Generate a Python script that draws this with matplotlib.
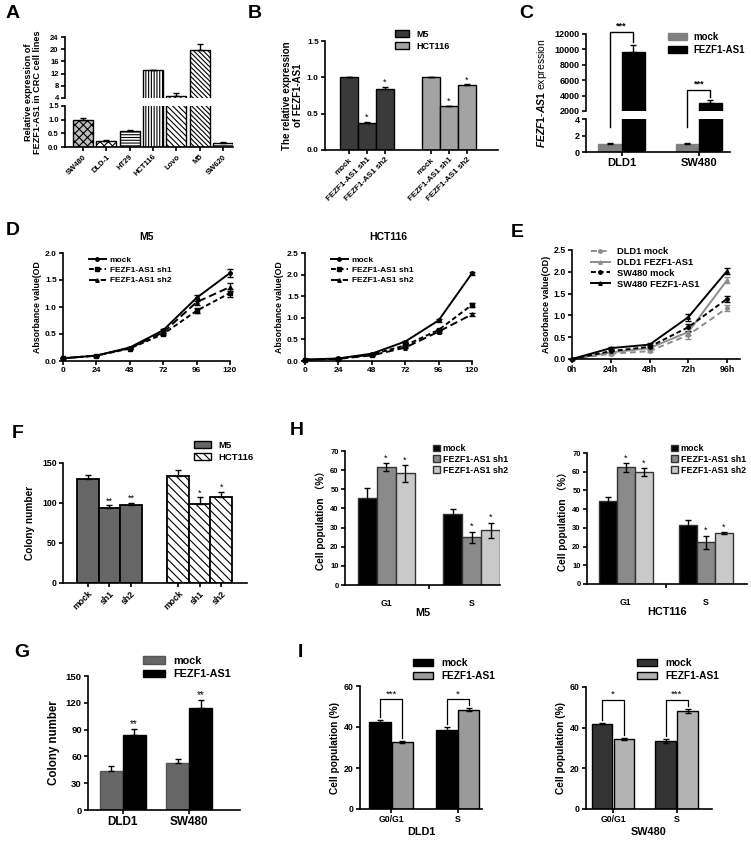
import matplotlib
matplotlib.use("Agg")
import matplotlib.pyplot as plt
import numpy as np
from matplotlib.lines import Line2D
from matplotlib.patches import Patch

plt.rcParams["font.family"] = ["Liberation Sans", "DejaVu Sans"]
plt.rcParams["font.weight"] = "bold"
plt.rcParams["axes.labelweight"] = "bold"
plt.rcParams["hatch.linewidth"] = 0.8
plt.rcParams["mathtext.fontset"] = "custom"
plt.rcParams["mathtext.it"] = "Liberation Sans:italic"
plt.rcParams["mathtext.rm"] = "Liberation Sans"

W, H = 751, 852

# ---- data ----
A_LINES = ["SW480", "DLD-1", "HT29", "HCT116", "Lovo", "M5", "SW620"]
A_VALUES = [1.0, 0.22, 0.58, 13.2, 4.6, 19.8, 0.15]
A_ERR = [0.05, 0.02, 0.03, 0.1, 0.9, 2.0, 0.02]

B_CONDS = ["mock", "FEZF1-AS1 sh1", "FEZF1-AS1 sh2"]
B_M5 = [1.0, 0.37, 0.84]
B_M5_ERR = [0.01, 0.02, 0.03]
B_HCT = [1.0, 0.60, 0.89]
B_HCT_ERR = [0.01, 0.005, 0.015]

C_LINES = ["DLD1", "SW480"]
C_MOCK = [1.0, 1.0]
C_MOCK_ERR = [0.08, 0.12]
C_FEZF = [9700, 3040]
C_FEZF_ERR = [870, 390]

D_HOURS = [0, 24, 48, 72, 96, 120]
D_M5_MOCK = [0.05, 0.10, 0.25, 0.57, 1.17, 1.63]
D_M5_SH1 = [0.05, 0.10, 0.23, 0.50, 0.93, 1.26]
D_M5_SH2 = [0.05, 0.10, 0.24, 0.53, 1.09, 1.37]
D_M5_ERR = [0.0, 0.0, 0.01, 0.02, 0.05, 0.07]
D_HCT_MOCK = [0.03, 0.06, 0.17, 0.45, 0.94, 2.03]
D_HCT_SH1 = [0.03, 0.05, 0.15, 0.36, 0.72, 1.30]
D_HCT_SH2 = [0.03, 0.05, 0.13, 0.31, 0.68, 1.08]
D_HCT_ERR = [0.0, 0.0, 0.01, 0.02, 0.03, 0.04]

E_HOURS = [0, 24, 48, 72, 96]
E_LABELS = ["0h", "24h", "48h", "72h", "96h"]
E_DLD1_MOCK = [0.0, 0.12, 0.18, 0.55, 1.17]
E_DLD1_FEZF = [0.0, 0.15, 0.25, 0.62, 1.81]
E_SW480_MOCK = [0.0, 0.18, 0.28, 0.73, 1.38]
E_SW480_FEZF = [0.0, 0.25, 0.33, 0.96, 2.02]
E_ERR = [0.0, 0.02, 0.03, 0.08, 0.07]

F_CONDS = ["mock", "sh1", "sh2"]
F_M5 = [130, 94, 97]
F_M5_ERR = [5, 3, 3]
F_HCT = [134, 99, 108]
F_HCT_ERR = [7, 8, 6]

G_LINES = ["DLD1", "SW480"]
G_MOCK = [44, 53]
G_MOCK_ERR = [5, 4]
G_FEZF = [84, 114]
G_FEZF_ERR = [7, 9]

H_PHASES = ["G1", "S"]
H_M5_MOCK = [45.5, 37.0]
H_M5_SH1 = [61.8, 25.0]
H_M5_SH2 = [58.3, 28.5]
H_M5_MOCK_ERR = [5.3, 2.5]
H_M5_SH1_ERR = [2.0, 2.8]
H_M5_SH2_ERR = [4.3, 4.0]
H_HCT_MOCK = [44.5, 31.3]
H_HCT_SH1 = [62.3, 22.3]
H_HCT_SH2 = [59.8, 27.2]
H_HCT_MOCK_ERR = [2.0, 3.0]
H_HCT_SH1_ERR = [2.2, 3.5]
H_HCT_SH2_ERR = [2.0, 0.6]

I_PHASES = ["G0/G1", "S"]
I_DLD1_MOCK = [42.5, 38.5]
I_DLD1_FEZF = [32.5, 48.5]
I_DLD1_MOCK_ERR = [0.7, 1.5]
I_DLD1_FEZF_ERR = [0.5, 0.8]
I_SW480_MOCK = [42.0, 33.5]
I_SW480_FEZF = [34.5, 48.0]
I_SW480_MOCK_ERR = [0.3, 1.0]
I_SW480_FEZF_ERR = [0.6, 1.0]


fig = plt.figure(figsize=(W / 100, H / 100), dpi=100)


def add_ax(l, t, r, b):
    return fig.add_axes([l / W, 1 - b / H, (r - l) / W, (b - t) / H])


def style(ax, size=5.5, lw=1.2):
    ax.spines["top"].set_visible(False)
    ax.spines["right"].set_visible(False)
    for s in ("left", "bottom"):
        ax.spines[s].set_linewidth(lw)
    ax.tick_params(width=lw, length=3, labelsize=size, pad=1.5)


def letter(x, y, s):
    fig.text(x / W, 1 - y / H, s, fontsize=14, fontweight="bold", va="top")


def fig_legend(handles, labels, x, y, size, **kw):
    leg = fig.legend(handles, labels, loc="upper left", bbox_to_anchor=(x / W, 1 - y / H),
                     frameon=False, fontsize=size, borderaxespad=0, borderpad=0, **kw)
    return leg


def bars(ax, x, h, err, color, hatch=None, width=1.0, sym=False, edge="black", lw=1.0):
    ax.bar(x, h, width, color=color, edgecolor=edge, linewidth=lw, hatch=hatch, zorder=2)
    e = np.array(err)
    yerr = e if sym else [np.zeros_like(e), e]
    ax.errorbar(x, h, yerr=yerr, fmt="none", ecolor="black", elinewidth=1.0, capsize=2.5,
                capthick=1.0, zorder=3)


def stars(ax, x, top, s, off, size=6):
    ax.text(x, top + off, s, ha="center", va="bottom", fontsize=size, fontweight="normal")


def fig_line(pts, lw=1.0):
    inv = fig.transFigure.inverted()
    p = inv.transform(pts)
    fig.add_artist(Line2D(p[:, 0], p[:, 1], color="black", lw=lw))


# ---------------- A ----------------
letter(6, 5, "A")
a_x = np.arange(len(A_LINES))
a_hatch = ["xxxx", "xxxx", "------", "||||||", "\\\\\\\\\\\\", "\\\\\\\\\\\\\\", "------"]
a_face = ["#bdbdbd", "white", "white", "white", "white", "white", "white"]
axA_up = add_ax(65, 37, 233, 98)
axA_lo = add_ax(65, 106, 233, 147)
for ax in (axA_up, axA_lo):
    style(ax, size=5.5)
    for i in range(len(A_LINES)):
        bars(ax, a_x[i], A_VALUES[i], [A_ERR[i]], a_face[i], hatch=a_hatch[i], width=0.86)
    ax.set_xlim(-0.77, 6.43)
axA_up.set_ylim(4, 24)
axA_up.set_yticks([4, 8, 12, 16, 20, 24])
axA_up.spines["bottom"].set_visible(False)
axA_up.set_xticks([])
axA_lo.set_ylim(0, 1.5)
axA_lo.set_yticks([0, 0.5, 1.0, 1.5])
axA_lo.set_yticklabels(["0.0", "0.5", "1.0", "1.5"])
axA_lo.set_xticks(a_x)
axA_lo.set_xticklabels(A_LINES, rotation=45, ha="right", rotation_mode="anchor", fontsize=5.5)
fig.text(33 / W, 1 - 92 / H, "Relative expression of\nFEZF1-AS1 in CRC cell lines", rotation=90,
         ha="center", va="center", fontsize=6.6, fontweight="bold", linespacing=1.1)

# ---------------- B ----------------
letter(248, 5, "B")
axB = add_ax(325, 41, 498, 150)
style(axB, size=6)
b_x1 = np.arange(3)
b_x2 = b_x1 + 4.56
bars(axB, b_x1, B_M5, B_M5_ERR, "#3a3a3a")
bars(axB, b_x2, B_HCT, B_HCT_ERR, "#a3a3a3")
for xs, vals, errs in ((b_x1, B_M5, B_M5_ERR), (b_x2, B_HCT, B_HCT_ERR)):
    for i in (1, 2):
        stars(axB, xs[i], vals[i] + errs[i], "*", 0.0, size=6.5)
axB.set_ylim(0, 1.5)
axB.set_yticks([0, 0.5, 1.0, 1.5])
axB.set_xlim(-1.33, 8.28)
axB.set_xticks(np.concatenate([b_x1, b_x2]))
axB.set_xticklabels(B_CONDS * 2, rotation=45, ha="right", rotation_mode="anchor", fontsize=5.8)
axB.set_ylabel("The relative expression\nof FEZF1-AS1", fontsize=7, labelpad=3, linespacing=1.1)
fig_legend([Patch(facecolor="#3a3a3a", edgecolor="black"), Patch(facecolor="#a3a3a3", edgecolor="black")],
           ["M5", "HCT116"], 395, 30, 6.5, handlelength=1.6, handleheight=0.8, labelspacing=0.3)

# ---------------- C ----------------
letter(519, 5, "C")
c_x = np.array([0.0, 3.35])
axC_up = add_ax(586, 34, 730, 111)
axC_lo = add_ax(586, 119, 730, 152)
for ax in (axC_up, axC_lo):
    style(ax, size=6.5)
    bars(ax, c_x, C_MOCK, C_MOCK_ERR, "#808080", edge="#808080")
    bars(ax, c_x + 1, C_FEZF, C_FEZF_ERR, "black")
    ax.set_xlim(-1.04, 5.2)
axC_up.set_ylim(2000, 12000)
axC_up.set_yticks(range(2000, 12001, 2000))
axC_up.spines["bottom"].set_visible(False)
axC_up.set_xticks([])
axC_lo.set_ylim(0, 4)
axC_lo.set_yticks([0, 2, 4])
axC_lo.set_xticks(c_x + 0.5)
axC_lo.set_xticklabels(C_LINES, fontsize=8)
fig.text(542 / W, 1 - 93 / H, r"$\mathit{FEZF1}$-$\mathit{AS1}$ expression", rotation=90,
         ha="center", va="center", fontsize=7.5, fontweight="normal")
for i, top in enumerate([12300, 4700]):
    xl, xr = c_x[i], c_x[i] + 1
    p_low = axC_lo.transData.transform((xl, 3.0))
    p_top_l = axC_up.transData.transform((xl, top))
    p_top_r = axC_up.transData.transform((xr, top))
    p_r = axC_up.transData.transform((xr, C_FEZF[i] + C_FEZF_ERR[i] + 400))
    fig_line(np.array([p_low, p_top_l, p_top_r, p_r]))
    axC_up.text(xl + 0.5, top + 200, "***", ha="center", va="bottom", fontsize=6.5, clip_on=False)
fig_legend([Patch(facecolor="#808080", edgecolor="#808080"), Patch(facecolor="black", edgecolor="black")],
           ["mock", "FEZF1-AS1"], 668, 32, 6.9, handlelength=2.0, handleheight=0.7, labelspacing=0.3,
           handletextpad=0.6)

# ---------------- D ----------------
letter(6, 222, "D")
d_styles = [("-", "o", 2.5), ((0, (2.5, 1.5)), "s", 2.5), ((0, (4, 2)), "^", 2.5)]
for (l, t, r, b), title, series, err, ymax, tx in (
        ((63, 253, 230, 361), "M5", (D_M5_MOCK, D_M5_SH1, D_M5_SH2), D_M5_ERR, 2.0, 147),
        ((305, 253, 472, 361), "HCT116", (D_HCT_MOCK, D_HCT_SH1, D_HCT_SH2), D_HCT_ERR, 2.5, 388)):
    ax = add_ax(l, t, r, b)
    style(ax, size=6)
    handles = []
    for ys, (ls, mk, ms) in zip(series, d_styles):
        ax.errorbar(D_HOURS, ys, yerr=err, color="black", ls=ls, lw=1.4, marker=mk, ms=ms,
                    capsize=2, elinewidth=0.8, clip_on=False)
        handles.append(Line2D([], [], color="black", ls=ls, lw=1.4, marker=mk, ms=ms))
    ax.set_xlim(0, 120)
    ax.set_xticks(D_HOURS)
    ax.set_ylim(0, ymax)
    ax.set_yticks(np.arange(0, ymax + 0.01, 0.5))
    ax.set_yticklabels(["%.1f" % v for v in np.arange(0, ymax + 0.01, 0.5)])
    ax.set_ylabel("Absorbance value(OD", fontsize=6.3, labelpad=2)
    fig.text(tx / W, 1 - 237 / H, title, ha="center", va="center", fontsize=7.5, fontweight="bold")
    fig_legend(handles, ["mock", "FEZF1-AS1 sh1", "FEZF1-AS1 sh2"], l + 26, 256, 6,
               handlelength=2.0, labelspacing=0.3, handletextpad=0.5)

# ---------------- E ----------------
letter(511, 224, "E")
axE = add_ax(572, 250, 740, 359)
style(axE, size=6.3)
e_series = [
    (E_DLD1_MOCK, "#8c8c8c", (0, (3, 2)), "o"),
    (E_DLD1_FEZF, "#8c8c8c", "-", "^"),
    (E_SW480_MOCK, "black", (0, (2.5, 1.5)), "o"),
    (E_SW480_FEZF, "black", "-", "^"),
]
e_handles = []
for ys, c, ls, mk in e_series:
    axE.errorbar(E_HOURS, ys, yerr=E_ERR, color=c, ls=ls, lw=1.4, marker=mk, ms=2.5, capsize=2,
                 elinewidth=0.8, clip_on=False)
    e_handles.append(Line2D([], [], color=c, ls=ls, lw=1.4, marker=mk, ms=2.5))
axE.set_xlim(0, 104)
axE.set_xticks(E_HOURS)
axE.set_xticklabels(E_LABELS)
axE.set_ylim(0, 2.5)
axE.set_yticks(np.arange(0, 2.51, 0.5))
axE.set_yticklabels(["%.1f" % v for v in np.arange(0, 2.51, 0.5)])
axE.set_ylabel("Absorbance value(OD)", fontsize=6.5, labelpad=2)
fig_legend(e_handles, ["DLD1 mock", "DLD1 FEZF1-AS1", "SW480 mock", "SW480 FEZF1-AS1"], 591, 247, 6.7,
           handlelength=2.0, labelspacing=0.2, handletextpad=0.8)

# ---------------- F ----------------
letter(12, 425, "F")
axF = add_ax(63, 463, 247, 583)
style(axF, size=6.3)
f_x1 = np.arange(3)
f_x2 = f_x1 + 4.2
bars(axF, f_x1, F_M5, F_M5_ERR, "#666666", lw=1.3)
bars(axF, f_x2, F_HCT, F_HCT_ERR, "white", hatch="\\\\\\\\", lw=1.3)
for i in (1, 2):
    stars(axF, f_x1[i], F_M5[i] + F_M5_ERR[i], "**", 0, size=6.5)
    stars(axF, f_x2[i], F_HCT[i] + F_HCT_ERR[i], "*", 0, size=6.5)
axF.set_ylim(0, 150)
axF.set_yticks([0, 50, 100, 150])
axF.set_xlim(-1.16, 7.4)
axF.set_xticks(np.concatenate([f_x1, f_x2]))
axF.set_xticklabels(F_CONDS * 2, rotation=45, ha="right", rotation_mode="anchor", fontsize=6.3)
axF.set_ylabel("Colony number", fontsize=7.3, labelpad=5)
fig_legend([Patch(facecolor="#666666", edgecolor="black"), Patch(facecolor="white", edgecolor="black", hatch="\\\\\\\\")],
           ["M5", "HCT116"], 194, 441, 6.8, handlelength=1.8, handleheight=0.8, labelspacing=0.3)

# ---------------- G ----------------
letter(14, 644, "G")
axG = add_ax(88, 676, 240, 810)
style(axG, size=6.8)
g_x = np.array([0.0, 2.9])
bars(axG, g_x, G_MOCK, G_MOCK_ERR, "#666666", edge="#555555")
bars(axG, g_x + 1, G_FEZF, G_FEZF_ERR, "black")
for i in range(2):
    stars(axG, g_x[i] + 1, G_FEZF[i] + G_FEZF_ERR[i], "**", 0, size=7)
axG.set_ylim(0, 150)
axG.set_yticks(range(0, 151, 30))
axG.set_xlim(-1.0, 5.6)
axG.set_xticks(g_x + 0.5)
axG.set_xticklabels(G_LINES, fontsize=8.5)
axG.set_ylabel("Colony number", fontsize=8.3, labelpad=4)
fig_legend([Patch(facecolor="#666666", edgecolor="#555555"), Patch(facecolor="black", edgecolor="black")],
           ["mock", "FEZF1-AS1"], 143, 656, 7.8, handlelength=2.0, handleheight=0.7, labelspacing=0.3)

# ---------------- H ----------------
letter(290, 422, "H")
h_cols = ["black", "#8a8a8a", "#c9c9c9"]
for (l, t, r, b), gap, name, vals, errs, legx, unit in (
        ((345, 451, 500, 585), 4.5, "M5", (H_M5_MOCK, H_M5_SH1, H_M5_SH2),
         (H_M5_MOCK_ERR, H_M5_SH1_ERR, H_M5_SH2_ERR), 433, 19.0),
        ((587, 453, 747, 584), 4.45, "HCT116", (H_HCT_MOCK, H_HCT_SH1, H_HCT_SH2),
         (H_HCT_MOCK_ERR, H_HCT_SH1_ERR, H_HCT_SH2_ERR), 671, 18.0)):
    ax = add_ax(l, t, r, b)
    style(ax, size=5.5)
    base = np.array([0.0, gap])
    for k in range(3):
        bars(ax, base + k, vals[k], errs[k], h_cols[k], edge="#333333", sym=True, lw=1.0)
        if k > 0:
            for j in range(2):
                stars(ax, base[j] + k, vals[k][j] + errs[k][j], "*", 0.3, size=6.5)
    ax.set_ylim(0, 70)
    ax.set_yticks(range(0, 71, 10))
    ax.set_xlim(-1.16, -1.16 + (r - l) / unit)
    ax.set_xticks(base + 1)
    ax.set_xticklabels(H_PHASES, fontsize=6.3)
    ax.tick_params(axis="x", length=0, pad=10)
    ax.set_xticks([(base[0] + 2 + base[1]) / 2], minor=True)
    ax.tick_params(axis="x", which="minor", length=3, width=1.2)
    ax.set_xlabel(name, fontsize=7.8, labelpad=0)
    ax.set_ylabel("Cell population （%）", fontsize=7.2, labelpad=3,
                  family=["Liberation Sans", "Noto Sans CJK SC"])
    fig_legend([Patch(facecolor=c, edgecolor="#333333") for c in h_cols],
               ["mock", "FEZF1-AS1 sh1", "FEZF1-AS1 sh2"], legx, 444, 6.4,
               handlelength=0.8, handleheight=0.8, labelspacing=0.2, handletextpad=0.3)

# ---------------- I ----------------
letter(298, 644, "I")
for (l, t, r, b), xs, xlim, name, mock, fezf, merr, ferr, cm, cf, sig, legx in (
        ((360, 686, 482, 809), np.array([0.0, 3.0]), (-0.9, 4.6), "DLD1",
         I_DLD1_MOCK, I_DLD1_FEZF, I_DLD1_MOCK_ERR, I_DLD1_FEZF_ERR, "black", "#9a9a9a",
         ["***", "*"], 413),
        ((586, 687, 712, 809), np.array([0.0, 2.9]), (-0.73, 5.0), "SW480",
         I_SW480_MOCK, I_SW480_FEZF, I_SW480_MOCK_ERR, I_SW480_FEZF_ERR, "#333333", "#b3b3b3",
         ["*", "***"], 637)):
    ax = add_ax(l, t, r, b)
    style(ax, size=6.3)
    bars(ax, xs, mock, merr, cm, edge="black", sym=True, width=0.95)
    bars(ax, xs + 1, fezf, ferr, cf, edge="black", sym=True, width=0.95)
    for j in range(2):
        top = 53.5
        ax.plot([xs[j], xs[j], xs[j] + 1, xs[j] + 1],
                [mock[j] + merr[j] + 1.5, top, top, fezf[j] + ferr[j] + 1.5],
                color="black", lw=0.9, clip_on=False)
        ax.text(xs[j] + 0.5, top + 0.5, sig[j], ha="center", va="bottom", fontsize=6.8,
                fontweight="normal")
    ax.set_ylim(0, 60)
    ax.set_yticks([0, 20, 40, 60])
    ax.set_xlim(*xlim)
    ax.set_xticks(xs + 0.5)
    ax.set_xticklabels(I_PHASES, fontsize=6.3)
    ax.set_xlabel(name, fontsize=7.8, labelpad=2)
    ax.set_ylabel("Cell population (%)", fontsize=7.3, labelpad=3)
    fig_legend([Patch(facecolor=cm, edgecolor="black"), Patch(facecolor=cf, edgecolor="black")],
               ["mock", "FEZF1-AS1"], legx, 658, 7.3, handlelength=2.0, handleheight=0.8,
               labelspacing=0.3)

fig.savefig("out.png", dpi=100)
